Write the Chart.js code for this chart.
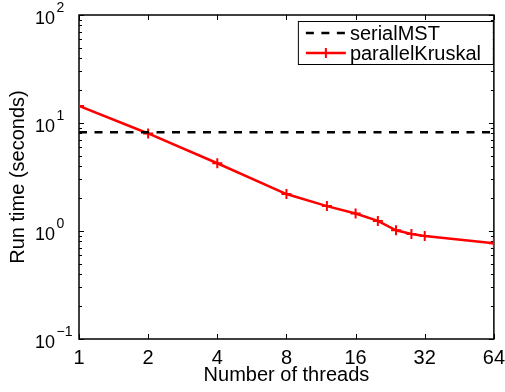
<!DOCTYPE html>
<html>
<head>
<meta charset="utf-8">
<script src="https://cdn.jsdelivr.net/npm/chart.js@4"></script>
<style>
  html, body { margin: 0; padding: 0; background: #fff; }
  #wrap { width: 505px; height: 392px; position: relative; }
</style>
</head>
<body>
<div id="wrap"><canvas id="c"></canvas></div>
<script>
/* MST run time vs thread count, log-log */
const FONT = '"Liberation Sans", Arial, Helvetica, sans-serif';

const threads = [1, 2, 4, 8, 12, 16, 20, 24, 28, 32, 64];
const parallelKruskal = [14.4, 8.0, 4.24, 2.2, 1.7, 1.45, 1.24, 1.015, 0.94, 0.9, 0.77];
const serialThreads = [1, 64];
const serialMST = [8.2, 8.2];

const xTicks = [1, 2, 4, 8, 16, 32, 64];
const yDecades = [-1, 0, 1, 2];

const pts = (xs, ys) => xs.map((x, i) => ({ x, y: ys[i] }));

// frame + inward tick marks on all four sides
const framePlugin = {
  id: "frame",
  beforeDatasetsDraw(chart) {
    const { ctx, chartArea: a, scales: { x, y } } = chart;
    ctx.save();
    ctx.strokeStyle = "#000";
    ctx.lineWidth = 1.5;
    ctx.strokeRect(a.left, a.top, a.right - a.left, a.bottom - a.top);
    ctx.lineWidth = 1;
    ctx.beginPath();
    xTicks.forEach((v) => {
      const px = Math.round(x.getPixelForValue(v)) + 0.5;
      ctx.moveTo(px, a.bottom); ctx.lineTo(px, a.bottom - 5);
      ctx.moveTo(px, a.top); ctx.lineTo(px, a.top + 5);
    });
    yDecades.forEach((d, i) => {
      for (let k = 1; k <= 9; k++) {
        if (k > 1 && i === yDecades.length - 1) break;
        const py = Math.round(y.getPixelForValue(k * Math.pow(10, d))) + 0.5;
        const len = k === 1 ? 5 : 3;
        ctx.moveTo(a.left, py); ctx.lineTo(a.left + len, py);
        ctx.moveTo(a.right, py); ctx.lineTo(a.right - len, py);
      }
    });
    ctx.stroke();
    ctx.restore();
  },
  afterDraw(chart) {
    // y tick labels as 10 with a raised exponent
    const { ctx, chartArea: a, scales: { y } } = chart;
    ctx.save();
    ctx.fillStyle = "#000";
    ctx.textBaseline = "alphabetic";
    yDecades.forEach((d) => {
      const py = y.getPixelForValue(Math.pow(10, d));
      ctx.font = "18px " + FONT;
      ctx.textAlign = "right";
      ctx.fillText("10", a.left - 24, py + 9);
      ctx.font = "14px " + FONT;
      ctx.textAlign = "left";
      ctx.fillText(d < 0 ? "\u2212" + (-d) : String(d), a.left - 22.5, py - 3);
    });
    ctx.restore();
  },
};

// boxed legend in the upper right corner
const legendPlugin = {
  id: "boxLegend",
  afterDraw(chart) {
    const { ctx, chartArea: a } = chart;
    const x0 = a.right - 196, y0 = a.top + 6, w = 195, h = 43;
    ctx.save();
    ctx.fillStyle = "#fff";
    ctx.fillRect(x0, y0, w, h);
    ctx.strokeStyle = "#000";
    ctx.lineWidth = 1;
    ctx.strokeRect(x0 + 0.5, y0 + 0.5, w, h);
    chart.data.datasets.forEach((ds, i) => {
      const cy = y0 + 12 + i * 20;
      ctx.strokeStyle = ds.borderColor;
      ctx.lineWidth = ds.borderWidth;
      ctx.setLineDash(ds.borderDash || []);
      ctx.beginPath();
      ctx.moveTo(x0 + 8, cy); ctx.lineTo(x0 + 48, cy);
      ctx.stroke();
      ctx.setLineDash([]);
      if (ds.pointRadius) {
        const r = ds.pointRadius, cx = x0 + 28;
        ctx.lineWidth = ds.pointBorderWidth;
        ctx.beginPath();
        ctx.moveTo(cx - r, cy); ctx.lineTo(cx + r, cy);
        ctx.moveTo(cx, cy - r); ctx.lineTo(cx, cy + r);
        ctx.stroke();
      }
      ctx.fillStyle = "#000";
      ctx.font = "20px " + FONT;
      ctx.textAlign = "left";
      ctx.textBaseline = "middle";
      ctx.fillText(ds.label, x0 + 52, cy + 1);
    });
    ctx.restore();
  },
};

new Chart(document.getElementById("c"), {
  type: "line",
  data: {
    datasets: [
      { label: "serialMST", data: pts(serialThreads, serialMST), borderColor: "#000",
        borderWidth: 2.5, borderDash: [8, 7.5], pointRadius: 0, fill: false, tension: 0 },
      { label: "parallelKruskal", data: pts(threads, parallelKruskal), borderColor: "#ff0000",
        borderWidth: 2.5, pointStyle: "cross", pointRadius: 5, pointBorderWidth: 2,
        pointBorderColor: "#ff0000", pointHoverRadius: 5, fill: false, tension: 0 },
    ],
  },
  options: {
    responsive: true, maintainAspectRatio: false, animation: false,
    layout: { padding: { top: 15, right: 5, left: 0, bottom: 0 } },
    plugins: { legend: { display: false }, tooltip: { enabled: false } },
    scales: {
      x: {
        type: "logarithmic", min: 1, max: 64,
        afterBuildTicks: (s) => { s.ticks = xTicks.map((v) => ({ value: v })); },
        afterFit: (s) => { s.height = 53; },
        grid: { display: false }, border: { display: false },
        ticks: { color: "#000", padding: 0, maxRotation: 0, autoSkip: false,
          font: { family: FONT, size: 20, lineHeight: 1.1 }, callback: (v) => String(v) },
        title: { display: true, text: "Number of threads", color: "#000",
          font: { family: FONT, size: 20, lineHeight: 1 }, padding: { top: 0, bottom: 7 } },
      },
      y: {
        type: "logarithmic", min: 0.1, max: 100,
        afterBuildTicks: (s) => { s.ticks = yDecades.map((d) => ({ value: Math.pow(10, d) })); },
        afterFit: (s) => { s.width = 79; },
        grid: { display: false }, border: { display: false },
        ticks: { display: false },
        title: { display: true, text: "Run time (seconds)", color: "#000",
          font: { family: FONT, size: 20, lineHeight: 1 }, padding: { top: 8, bottom: 0 } },
      },
    },
  },
  plugins: [framePlugin, legendPlugin],
});
</script>
</body>
</html>
